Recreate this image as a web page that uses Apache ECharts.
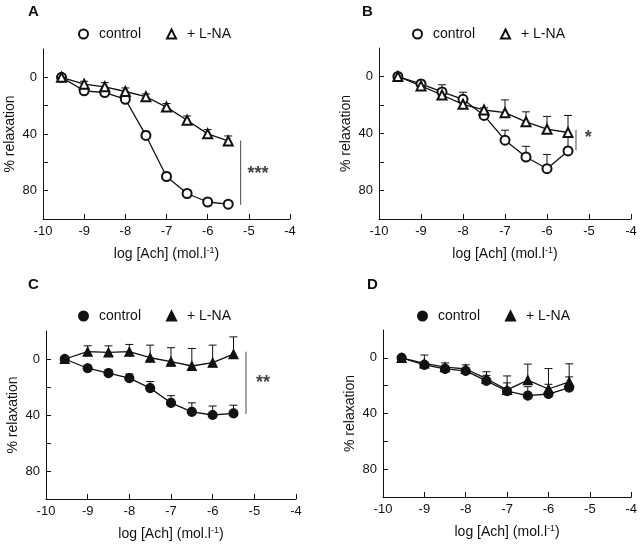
<!DOCTYPE html>
<html>
<head>
<meta charset="utf-8">
<script src="https://cdn.jsdelivr.net/npm/echarts@6.0.0/dist/echarts.min.js"></script>
<style>
	html, body { margin: 0; padding: 0; background: #fff; }
	#chart { width: 640px; height: 544px; }
</style>
</head>
<body>
<div id="chart"></div>
<script>
// log [Ach] doses, shared by all four panels
var logAch = [-9.55, -9, -8.5, -8, -7.5, -7, -6.5, -6, -5.5];

var xTicks = [-10, -9, -8, -7, -6, -5, -4];
var yTicks = [0, 20, 40, 60, 80];
var yLabels = [0, 40, 80];

var panelNames = ['A', 'B', 'C', 'D'];

// % relaxation, mean and one-sided error (drawn upwards)
var controlA = [0, 9.5, 10.7, 15.5, 41, 70, 82, 88, 89.5];
var controlAErr = [0, 2, 2, 2, 3, 3, 2.5, 2.5, 2];
var lnaA = [0, 4.8, 6.7, 10, 13.7, 21, 30.3, 39.9, 44.9];
var lnaAErr = [0, 2, 3, 2.5, 2, 2.5, 3, 3, 3.5];

var controlB = [0, 5.2, 10.8, 16, 27.3, 44.7, 56.5, 64.7, 52.2];
var controlBErr = [0, 2.5, 5, 5, 2, 7, 7.5, 10, 12];
var lnaB = [0, 6.6, 13, 19.5, 23.5, 25.4, 31.8, 37, 39.3];
var lnaBErr = [0, 2, 2, 2, 1.5, 9, 7, 9, 12];

var controlC = [0, 6.6, 10.1, 13.7, 20.8, 31.4, 37.7, 40, 38.9];
var controlCErr = [0, 2, 2.4, 3, 4.7, 5.2, 6.4, 6.4, 5.9];
var lnaC = [0, -5.2, -4.7, -5.2, -0.9, 1.9, 5, 2.6, -3.5];
var lnaCErr = [0, 4.2, 4.7, 5.2, 9, 10, 12.5, 12.5, 12.3];

var controlD = [0, 5, 8, 9.4, 16.6, 24, 27.2, 26, 21.4];
var controlDErr = [0, 2, 2, 2, 4, 6, 6.5, 7, 7.7];
var lnaD = [0, 4, 6.7, 8, 15, 23, 16, 22.4, 17.3];
var lnaDErr = [0, 6, 3, 3, 5, 10, 11.5, 14.7, 13];

// significance bars: x, from, to, stars x, stars y, stars
var sigA = [-5.2, 44.6, 90, -4.78, 68, '***'];
var sigB = [-5.31, 37.6, 51.8, -5.02, 43.5, '*'];
var sigC = [-5.2, -5.2, 39.2, -4.79, 17.2, '**'];

window.onload = function () {
	var myChart = echarts.init(document.getElementById('chart'));

	var font = 'Liberation Sans, Arial, sans-serif';
	var grids = [
		{ left: 43, top: 49, width: 247, height: 170 },
		{ left: 379, top: 48, width: 252, height: 171 },
		{ left: 46, top: 331, width: 250, height: 168 },
		{ left: 383, top: 330, width: 249, height: 167 }
	];
	var legendPos = [[78, 27], [412, 27], [78, 309], [417, 309]];
	var titlePos = [[28, 4], [362, 4], [28, 277], [367, 277]];
	var panels = [
		[controlA, controlAErr, lnaA, lnaAErr, sigA, true],
		[controlB, controlBErr, lnaB, lnaBErr, sigB, true],
		[controlC, controlCErr, lnaC, lnaCErr, sigC, false],
		[controlD, controlDErr, lnaD, lnaDErr, null, false]
	];

	function pairs(ys) {
		return logAch.map(function (x, i) { return [x, ys[i]]; });
	}
	function errData(ys, es) {
		var out = [];
		for (var i = 0; i < ys.length; i++) {
			if (es[i] > 0) out.push([logAch[i], ys[i], es[i]]);
		}
		return out;
	}
	function renderErr(params, api) {
		var p1 = api.coord([api.value(0), api.value(1)]);
		var p2 = api.coord([api.value(0), api.value(1) - api.value(2)]);
		var style = { stroke: '#111', lineWidth: 1 };
		return {
			type: 'group',
			children: [
				{ type: 'line', shape: { x1: p1[0], y1: p1[1], x2: p2[0], y2: p2[1] }, style: style },
				{ type: 'line', shape: { x1: p2[0] - 4, y1: p2[1], x2: p2[0] + 4, y2: p2[1] }, style: style }
			]
		};
	}

	var xAxis = [], yAxis = [], series = [], legend = [], title = [];

	panels.forEach(function (p, k) {
		var open = p[5];
		xAxis.push({
			gridIndex: k,
			type: 'value',
			min: -10,
			max: -4,
			interval: 1,
			name: 'log [Ach] (mol.l{s|-1})',
			nameLocation: 'middle',
			nameGap: 27,
			nameTextStyle: {
				color: '#111', fontFamily: font, fontSize: 14,
				rich: { s: { fontSize: 9, fontFamily: font, color: '#111', verticalAlign: 'top', lineHeight: 16, padding: [0, 0, 8, 0] } }
			},
			axisLine: { onZero: false, lineStyle: { color: '#111', width: 1 } },
			axisTick: { inside: true, length: 5, lineStyle: { color: '#111' }, customValues: xTicks },
			axisLabel: { color: '#111', fontFamily: font, fontSize: 13, margin: 6, customValues: xTicks },
			splitLine: { show: false }
		});
		yAxis.push({
			gridIndex: k,
			type: 'value',
			inverse: true,
			min: -20,
			max: 100,
			name: '% relaxation',
			nameLocation: 'middle',
			nameGap: 26,
			nameTextStyle: { color: '#111', fontFamily: font, fontSize: 14 },
			axisLine: { show: true, onZero: false, lineStyle: { color: '#111', width: 1 } },
			axisTick: { show: true, inside: true, length: 5, lineStyle: { color: '#111' }, customValues: yTicks },
			axisLabel: { color: '#111', fontFamily: font, fontSize: 13, margin: 6, customValues: yLabels },
			splitLine: { show: false }
		});

		var lines = [[p[0], p[1], 'control', open ? 'emptyCircle' : 'circle', 9],
			[p[2], p[3], '+ L-NA', open ? 'emptyTriangle' : 'triangle', 9]];
		lines.forEach(function (l) {
			series.push({
				type: 'custom',
				xAxisIndex: k,
				yAxisIndex: k,
				renderItem: renderErr,
				data: errData(l[0], l[1]),
				z: 1,
				silent: true
			});
			series.push({
				name: l[2],
				type: 'line',
				xAxisIndex: k,
				yAxisIndex: k,
				data: pairs(l[0]),
				symbol: l[3],
				symbolSize: l[4],
				showAllSymbol: true,
				lineStyle: { color: '#111', width: 1.3 },
				itemStyle: { color: '#111', borderColor: '#111', borderWidth: 1.2 },
				z: 3
			});
		});

		var sig = p[4];
		if (sig) {
			series.push({
				type: 'line',
				xAxisIndex: k,
				yAxisIndex: k,
				data: [[sig[0], sig[1]], [sig[0], sig[2]]],
				symbol: 'none',
				lineStyle: { color: '#666', width: 1.2 },
				silent: true
			});
			series.push({
				type: 'scatter',
				xAxisIndex: k,
				yAxisIndex: k,
				data: [[sig[3], sig[4]]],
				symbolSize: 0,
				label: {
					show: true,
					position: 'inside',
					formatter: sig[5],
					color: '#111',
					fontFamily: font,
					fontWeight: 'bold',
					fontSize: 18,
					padding: [6, 0, 0, 0]
				},
				silent: true
			});
		}

		legend.push({
			left: legendPos[k][0],
			top: legendPos[k][1],
			padding: 0,
			itemWidth: 9,
			itemHeight: 9,
			itemGap: 25,
			selectedMode: false,
			textStyle: { color: '#111', fontFamily: font, fontSize: 14, padding: [0, 0, 0, 6] },
			data: [
				{ name: 'control', icon: open ? 'emptyCircle' : 'circle' },
				{ name: '+ L-NA', icon: open ? 'emptyTriangle' : 'triangle' }
			]
		});

		title.push({
			text: panelNames[k],
			left: titlePos[k][0],
			top: titlePos[k][1],
			padding: 0,
			textStyle: { color: '#111', fontFamily: font, fontWeight: 'bold', fontSize: 15 }
		});
	});

	var option = {
		backgroundColor: '#fff',
		animation: false,
		title: title,
		legend: legend,
		grid: grids,
		xAxis: xAxis,
		yAxis: yAxis,
		series: series
	};

	myChart.setOption(option);
};
</script>
</body>
</html>
